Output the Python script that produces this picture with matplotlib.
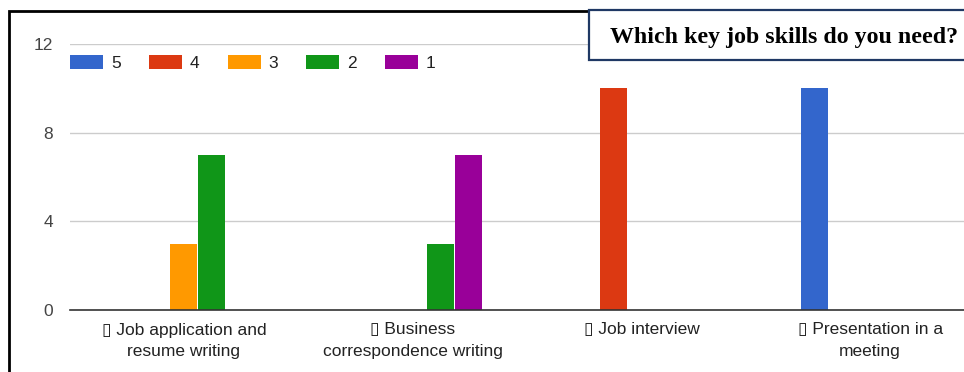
import matplotlib
matplotlib.use("Agg")
import matplotlib.pyplot as plt
import matplotlib.patches as mpatches
import numpy as np

plt.rcParams['font.family'] = ['Liberation Sans', 'DejaVu Sans']

categories = ["\u25af Job application and\nresume writing",
              "\u25af Business\ncorrespondence writing",
              "\u25af Job interview",
              "\u25af Presentation in a\nmeeting"]
series_names = ["5", "4", "3", "2", "1"]
values = {
    "5": [0, 0, 0, 10],
    "4": [0, 0, 10, 0],
    "3": [3, 0, 0, 0],
    "2": [7, 3, 0, 0],
    "1": [0, 7, 0, 0],
}
colors = ["#3366cc", "#dc3912", "#ff9900", "#109618", "#990099"]
yticks = [0, 4, 8, 12]
title = "Which key job skills do you need?"

W, H = 964, 372
fig = plt.figure(figsize=(W / 100, H / 100), dpi=100)
left_px, right_px, top_px, bot_px = 69.5, 984.5, 44, 310
ax = fig.add_axes([left_px / W, 1 - bot_px / H, (right_px - left_px) / W, (bot_px - top_px) / H])

x = np.arange(len(categories))
bw = 28 / 229
for i, (name, c) in enumerate(zip(series_names, colors)):
    ax.bar(x + (i - 2) * bw, values[name], width=bw * 0.97, color=c, label=name, zorder=3)

fs = 12.5
ax.set_xlim(-0.5, len(categories) - 0.5)
ax.set_ylim(0, 12)
ax.set_yticks(yticks)
ax.set_yticklabels([str(t) for t in yticks], color="#444444", fontsize=fs)
ax.set_xticks(x)
ax.set_xticklabels(categories, color="#222222", fontsize=fs, linespacing=1.58)
ax.tick_params(axis='both', length=0)
ax.tick_params(axis='y', pad=12)
ax.tick_params(axis='x', pad=9)
for s in ["top", "right", "left"]:
    ax.spines[s].set_visible(False)
ax.spines["bottom"].set_color("#333333")
ax.spines["bottom"].set_linewidth(1.2)
ax.spines["bottom"].set_zorder(4)
ax.grid(axis='y', color="#cccccc", linewidth=1, zorder=0)

leg = ax.legend(loc="upper left", bbox_to_anchor=(0.0005, 0.957), ncol=5, frameon=False,
                fontsize=fs, handlelength=1.9, handleheight=0.85, handletextpad=0.46,
                columnspacing=1.62, borderaxespad=0, borderpad=0)
for t in leg.get_texts():
    t.set_color("#222222")

# outer frame
fig.patches.append(mpatches.Rectangle((9 / W, -0.1), 1.2, 1 - 11 / H + 0.1, transform=fig.transFigure,
                                      fill=False, edgecolor="black", linewidth=2, zorder=5))
# title box
fig.patches.append(mpatches.Rectangle((589 / W, 1 - 60 / H), 0.5, 50 / H, transform=fig.transFigure,
                                      facecolor="white", edgecolor="#1f3864", linewidth=1.6, zorder=6))
fig.text(784 / W, 1 - 37 / H, title, ha="center", va="center", fontsize=17.2, fontweight="bold",
         family="Liberation Serif", color="black", zorder=7)

fig.savefig("out.png", dpi=100)
